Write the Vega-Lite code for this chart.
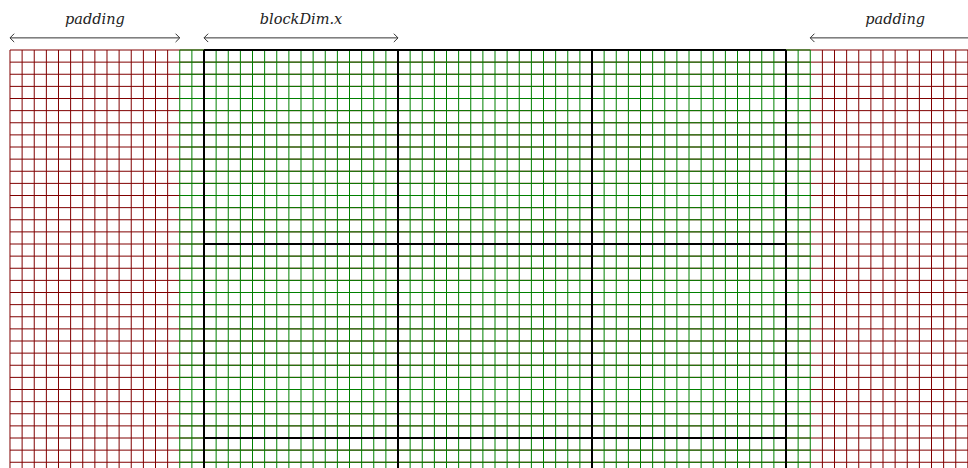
{
"$schema":"https://vega.github.io/schema/vega-lite/v6.json",
"width":968,"height":468,"padding":0,"autosize":{"type":"none"},
"config":{"view":{"stroke":null}},
"datasets":{
"grid":[
{"x":0,"x2":80,"y":0,"y2":0,"k":"r"},{"x":0,"x2":80,"y":1,"y2":1,"k":"r"},{"x":0,"x2":80,"y":2,"y2":2,"k":"r"},{"x":0,"x2":80,"y":3,"y2":3,"k":"r"},{"x":0,"x2":80,"y":4,"y2":4,"k":"r"},{"x":0,"x2":80,"y":5,"y2":5,"k":"r"},{"x":0,"x2":80,"y":6,"y2":6,"k":"r"},{"x":0,"x2":80,"y":7,"y2":7,"k":"r"},{"x":0,"x2":80,"y":8,"y2":8,"k":"r"},{"x":0,"x2":80,"y":9,"y2":9,"k":"r"},{"x":0,"x2":80,"y":10,"y2":10,"k":"r"},{"x":0,"x2":80,"y":11,"y2":11,"k":"r"},{"x":0,"x2":80,"y":12,"y2":12,"k":"r"},{"x":0,"x2":80,"y":13,"y2":13,"k":"r"},{"x":0,"x2":80,"y":14,"y2":14,"k":"r"},{"x":0,"x2":80,"y":15,"y2":15,"k":"r"},{"x":0,"x2":80,"y":16,"y2":16,"k":"r"},{"x":0,"x2":80,"y":17,"y2":17,"k":"r"},{"x":0,"x2":80,"y":18,"y2":18,"k":"r"},{"x":0,"x2":80,"y":19,"y2":19,"k":"r"},{"x":0,"x2":80,"y":20,"y2":20,"k":"r"},{"x":0,"x2":80,"y":21,"y2":21,"k":"r"},{"x":0,"x2":80,"y":22,"y2":22,"k":"r"},{"x":0,"x2":80,"y":23,"y2":23,"k":"r"},{"x":0,"x2":80,"y":24,"y2":24,"k":"r"},{"x":0,"x2":80,"y":25,"y2":25,"k":"r"},{"x":0,"x2":80,"y":26,"y2":26,"k":"r"},{"x":0,"x2":80,"y":27,"y2":27,"k":"r"},{"x":0,"x2":80,"y":28,"y2":28,"k":"r"},{"x":0,"x2":80,"y":29,"y2":29,"k":"r"},{"x":0,"x2":80,"y":30,"y2":30,"k":"r"},{"x":0,"x2":80,"y":31,"y2":31,"k":"r"},{"x":0,"x2":80,"y":32,"y2":32,"k":"r"},{"x":0,"x2":80,"y":33,"y2":33,"k":"r"},{"x":0,"x2":80,"y":34,"y2":34,"k":"r"},{"x":0,"x2":80,"y":35,"y2":35,"k":"r"},
{"x":0,"x2":0,"y":0,"y2":35,"k":"r"},{"x":1,"x2":1,"y":0,"y2":35,"k":"r"},{"x":2,"x2":2,"y":0,"y2":35,"k":"r"},{"x":3,"x2":3,"y":0,"y2":35,"k":"r"},{"x":4,"x2":4,"y":0,"y2":35,"k":"r"},{"x":5,"x2":5,"y":0,"y2":35,"k":"r"},{"x":6,"x2":6,"y":0,"y2":35,"k":"r"},{"x":7,"x2":7,"y":0,"y2":35,"k":"r"},{"x":8,"x2":8,"y":0,"y2":35,"k":"r"},{"x":9,"x2":9,"y":0,"y2":35,"k":"r"},{"x":10,"x2":10,"y":0,"y2":35,"k":"r"},{"x":11,"x2":11,"y":0,"y2":35,"k":"r"},{"x":12,"x2":12,"y":0,"y2":35,"k":"r"},{"x":13,"x2":13,"y":0,"y2":35,"k":"r"},
{"x":67,"x2":67,"y":0,"y2":35,"k":"r"},{"x":68,"x2":68,"y":0,"y2":35,"k":"r"},{"x":69,"x2":69,"y":0,"y2":35,"k":"r"},{"x":70,"x2":70,"y":0,"y2":35,"k":"r"},{"x":71,"x2":71,"y":0,"y2":35,"k":"r"},{"x":72,"x2":72,"y":0,"y2":35,"k":"r"},{"x":73,"x2":73,"y":0,"y2":35,"k":"r"},{"x":74,"x2":74,"y":0,"y2":35,"k":"r"},{"x":75,"x2":75,"y":0,"y2":35,"k":"r"},{"x":76,"x2":76,"y":0,"y2":35,"k":"r"},{"x":77,"x2":77,"y":0,"y2":35,"k":"r"},{"x":78,"x2":78,"y":0,"y2":35,"k":"r"},{"x":79,"x2":79,"y":0,"y2":35,"k":"r"},{"x":80,"x2":80,"y":0,"y2":35,"k":"r"},
{"x":14,"x2":66,"y":0,"y2":0,"k":"g"},{"x":14,"x2":66,"y":1,"y2":1,"k":"g"},{"x":14,"x2":66,"y":2,"y2":2,"k":"g"},{"x":14,"x2":66,"y":3,"y2":3,"k":"g"},{"x":14,"x2":66,"y":4,"y2":4,"k":"g"},{"x":14,"x2":66,"y":5,"y2":5,"k":"g"},{"x":14,"x2":66,"y":6,"y2":6,"k":"g"},{"x":14,"x2":66,"y":7,"y2":7,"k":"g"},{"x":14,"x2":66,"y":8,"y2":8,"k":"g"},{"x":14,"x2":66,"y":9,"y2":9,"k":"g"},{"x":14,"x2":66,"y":10,"y2":10,"k":"g"},{"x":14,"x2":66,"y":11,"y2":11,"k":"g"},{"x":14,"x2":66,"y":12,"y2":12,"k":"g"},{"x":14,"x2":66,"y":13,"y2":13,"k":"g"},{"x":14,"x2":66,"y":14,"y2":14,"k":"g"},{"x":14,"x2":66,"y":15,"y2":15,"k":"g"},{"x":14,"x2":66,"y":16,"y2":16,"k":"g"},{"x":14,"x2":66,"y":17,"y2":17,"k":"g"},{"x":14,"x2":66,"y":18,"y2":18,"k":"g"},{"x":14,"x2":66,"y":19,"y2":19,"k":"g"},{"x":14,"x2":66,"y":20,"y2":20,"k":"g"},{"x":14,"x2":66,"y":21,"y2":21,"k":"g"},{"x":14,"x2":66,"y":22,"y2":22,"k":"g"},{"x":14,"x2":66,"y":23,"y2":23,"k":"g"},{"x":14,"x2":66,"y":24,"y2":24,"k":"g"},{"x":14,"x2":66,"y":25,"y2":25,"k":"g"},{"x":14,"x2":66,"y":26,"y2":26,"k":"g"},{"x":14,"x2":66,"y":27,"y2":27,"k":"g"},{"x":14,"x2":66,"y":28,"y2":28,"k":"g"},{"x":14,"x2":66,"y":29,"y2":29,"k":"g"},{"x":14,"x2":66,"y":30,"y2":30,"k":"g"},{"x":14,"x2":66,"y":31,"y2":31,"k":"g"},{"x":14,"x2":66,"y":32,"y2":32,"k":"g"},{"x":14,"x2":66,"y":33,"y2":33,"k":"g"},{"x":14,"x2":66,"y":34,"y2":34,"k":"g"},{"x":14,"x2":66,"y":35,"y2":35,"k":"g"},
{"x":14,"x2":14,"y":0,"y2":35,"k":"g"},{"x":15,"x2":15,"y":0,"y2":35,"k":"g"},{"x":16,"x2":16,"y":0,"y2":35,"k":"g"},{"x":17,"x2":17,"y":0,"y2":35,"k":"g"},{"x":18,"x2":18,"y":0,"y2":35,"k":"g"},{"x":19,"x2":19,"y":0,"y2":35,"k":"g"},{"x":20,"x2":20,"y":0,"y2":35,"k":"g"},{"x":21,"x2":21,"y":0,"y2":35,"k":"g"},{"x":22,"x2":22,"y":0,"y2":35,"k":"g"},{"x":23,"x2":23,"y":0,"y2":35,"k":"g"},{"x":24,"x2":24,"y":0,"y2":35,"k":"g"},{"x":25,"x2":25,"y":0,"y2":35,"k":"g"},{"x":26,"x2":26,"y":0,"y2":35,"k":"g"},{"x":27,"x2":27,"y":0,"y2":35,"k":"g"},{"x":28,"x2":28,"y":0,"y2":35,"k":"g"},{"x":29,"x2":29,"y":0,"y2":35,"k":"g"},{"x":30,"x2":30,"y":0,"y2":35,"k":"g"},{"x":31,"x2":31,"y":0,"y2":35,"k":"g"},{"x":32,"x2":32,"y":0,"y2":35,"k":"g"},{"x":33,"x2":33,"y":0,"y2":35,"k":"g"},{"x":34,"x2":34,"y":0,"y2":35,"k":"g"},{"x":35,"x2":35,"y":0,"y2":35,"k":"g"},{"x":36,"x2":36,"y":0,"y2":35,"k":"g"},{"x":37,"x2":37,"y":0,"y2":35,"k":"g"},{"x":38,"x2":38,"y":0,"y2":35,"k":"g"},{"x":39,"x2":39,"y":0,"y2":35,"k":"g"},{"x":40,"x2":40,"y":0,"y2":35,"k":"g"},{"x":41,"x2":41,"y":0,"y2":35,"k":"g"},{"x":42,"x2":42,"y":0,"y2":35,"k":"g"},{"x":43,"x2":43,"y":0,"y2":35,"k":"g"},{"x":44,"x2":44,"y":0,"y2":35,"k":"g"},{"x":45,"x2":45,"y":0,"y2":35,"k":"g"},{"x":46,"x2":46,"y":0,"y2":35,"k":"g"},{"x":47,"x2":47,"y":0,"y2":35,"k":"g"},{"x":48,"x2":48,"y":0,"y2":35,"k":"g"},{"x":49,"x2":49,"y":0,"y2":35,"k":"g"},{"x":50,"x2":50,"y":0,"y2":35,"k":"g"},{"x":51,"x2":51,"y":0,"y2":35,"k":"g"},{"x":52,"x2":52,"y":0,"y2":35,"k":"g"},{"x":53,"x2":53,"y":0,"y2":35,"k":"g"},{"x":54,"x2":54,"y":0,"y2":35,"k":"g"},{"x":55,"x2":55,"y":0,"y2":35,"k":"g"},{"x":56,"x2":56,"y":0,"y2":35,"k":"g"},{"x":57,"x2":57,"y":0,"y2":35,"k":"g"},{"x":58,"x2":58,"y":0,"y2":35,"k":"g"},{"x":59,"x2":59,"y":0,"y2":35,"k":"g"},{"x":60,"x2":60,"y":0,"y2":35,"k":"g"},{"x":61,"x2":61,"y":0,"y2":35,"k":"g"},{"x":62,"x2":62,"y":0,"y2":35,"k":"g"},{"x":63,"x2":63,"y":0,"y2":35,"k":"g"},{"x":64,"x2":64,"y":0,"y2":35,"k":"g"},{"x":65,"x2":65,"y":0,"y2":35,"k":"g"},{"x":66,"x2":66,"y":0,"y2":35,"k":"g"}
],
"blocks":[
{"x":16,"x2":16,"y":0,"y2":35},{"x":32,"x2":32,"y":0,"y2":35},{"x":48,"x2":48,"y":0,"y2":35},{"x":64,"x2":64,"y":0,"y2":35},
{"x":16,"x2":64,"y":0,"y2":0},{"x":16,"x2":64,"y":16,"y2":16},{"x":16,"x2":64,"y":32,"y2":32}
],
"arrows":[
{"x":0,"x2":14,"y":-1},{"x":16,"x2":32,"y":-1},{"x":66,"x2":80,"y":-1}
],
"heads":[
{"x":0,"y":-1,"ang":0},{"x":14,"y":-1,"ang":180},{"x":16,"y":-1,"ang":0},{"x":32,"y":-1,"ang":180},{"x":66,"y":-1,"ang":0}
],
"labels":[
{"x":7,"y":-2.15,"t":"padding"},{"x":24,"y":-2.15,"t":"blockDim.x"},{"x":73,"y":-2.15,"t":"padding"}
]
},
"layer":[
{"data":{"name":"grid"},"mark":{"type":"rule","strokeWidth":1,"clip":true},
"encoding":{
"x":{"field":"x","type":"quantitative","scale":{"domain":[-0.82474,79.0103],"nice":false,"zero":false},"axis":null},
"x2":{"field":"x2"},
"y":{"field":"y","type":"quantitative","scale":{"domain":[-4.12371,34.4742],"nice":false,"zero":false,"reverse":true},"axis":null},
"y2":{"field":"y2"},
"color":{"field":"k","type":"nominal","scale":{"domain":["r","g"],"range":["#800000","#008000"]},"legend":null}
}},
{"data":{"name":"blocks"},"mark":{"type":"rule","strokeWidth":2,"color":"#000000","clip":true},
"encoding":{
"x":{"field":"x","type":"quantitative"},"x2":{"field":"x2"},
"y":{"field":"y","type":"quantitative"},"y2":{"field":"y2"}
}},
{"data":{"name":"arrows"},"mark":{"type":"rule","strokeWidth":1,"color":"#333333","clip":true},
"encoding":{
"x":{"field":"x","type":"quantitative"},"x2":{"field":"x2"},
"y":{"field":"y","type":"quantitative"}
}},
{"data":{"name":"heads"},"mark":{"type":"point","shape":"M1,-1L0,0L1,1","filled":false,"size":70,"strokeWidth":1,"color":"#333333","opacity":1},
"encoding":{
"x":{"field":"x","type":"quantitative"},
"y":{"field":"y","type":"quantitative"},
"angle":{"field":"ang","type":"quantitative","scale":null}
}},
{"data":{"name":"labels"},"mark":{"type":"text","font":"DejaVu Serif","fontStyle":"italic","fontSize":14.5,"color":"#222222","baseline":"alphabetic","align":"center"},
"encoding":{
"x":{"field":"x","type":"quantitative"},
"y":{"field":"y","type":"quantitative"},
"text":{"field":"t","type":"nominal"}
}}
]
}
